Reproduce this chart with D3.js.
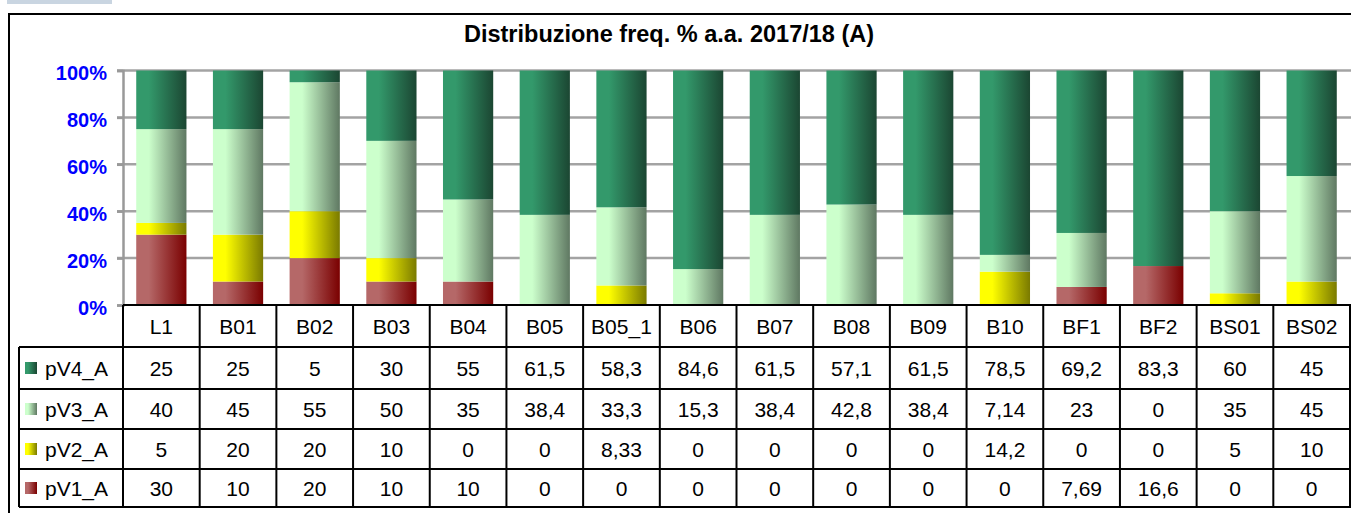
<!DOCTYPE html>
<html>
<head>
<meta charset="utf-8">
<script src="https://cdn.jsdelivr.net/npm/d3@7"></script>
<style>
  html, body { margin: 0; padding: 0; background: #fff; }
  svg { display: block; font-family: "Liberation Sans", Arial, sans-serif; }
</style>
</head>
<body>
<div id="chart"></div>
<script>
// Daten (Werte wie in der Tabelle, mit Komma)
const categories = ["L1", "B01", "B02", "B03", "B04", "B05", "B05_1", "B06", "B07", "B08", "B09", "B10", "BF1", "BF2", "BS01", "BS02"];
const pV4_A = ["25", "25", "5", "30", "55", "61,5", "58,3", "84,6", "61,5", "57,1", "61,5", "78,5", "69,2", "83,3", "60", "45"];
const pV3_A = ["40", "45", "55", "50", "35", "38,4", "33,3", "15,3", "38,4", "42,8", "38,4", "7,14", "23", "0", "35", "45"];
const pV2_A = ["5", "20", "20", "10", "0", "0", "8,33", "0", "0", "0", "0", "14,2", "0", "0", "5", "10"];
const pV1_A = ["30", "10", "20", "10", "10", "0", "0", "0", "0", "0", "0", "0", "7,69", "16,6", "0", "0"];
const seriesNames = ["pV1_A", "pV2_A", "pV3_A", "pV4_A"];
const tableOrder = ["pV4_A", "pV3_A", "pV2_A", "pV1_A"];
const yTicks = [0, 0.2, 0.4, 0.6, 0.8, 1];
const title = "Distribuzione freq. % a.a. 2017/18 (A)";

const seriesText = { pV1_A, pV2_A, pV3_A, pV4_A };
const num = s => +s.replace(",", ".");

// Farben: hell links -> dunkel rechts
const colors = {
  pV4_A: ["#33996b", "#1b4632"],
  pV3_A: ["#ccffcc", "#5f7862"],
  pV2_A: ["#ffff00", "#7a7a00"],
  pV1_A: ["#b56868", "#7a0000"]
};

const width = 1351, height = 513;
const plotLeft = 123, plotRight = 1350;
const yTop = 70.5, yBottom = 305;
const rowEdges = [347, 389, 429, 469, 507];
const legendLeft = 19;

const rows = categories.map((c, i) => {
  const r = { cat: c };
  seriesNames.forEach(s => r[s] = num(seriesText[s][i]));
  return r;
});

const svg = d3.select("#chart").append("svg")
  .attr("width", width)
  .attr("height", height);

// Gradienten
const defs = svg.append("defs");
seriesNames.forEach(s => {
  const g = defs.append("linearGradient")
    .attr("id", "grad-" + s)
    .attr("x1", 0).attr("x2", 1).attr("y1", 0).attr("y2", 0);
  g.append("stop").attr("offset", "0%").attr("stop-color", colors[s][0]);
  g.append("stop").attr("offset", "25%").attr("stop-color", colors[s][0]);
  g.append("stop").attr("offset", "100%").attr("stop-color", colors[s][1]);
});

// kleiner Balken oben links
svg.append("rect")
  .attr("x", 7).attr("y", 0).attr("width", 105).attr("height", 4)
  .attr("fill", "#c9d5e1");

// Rahmen des Diagramms
svg.append("path")
  .attr("d", `M${width + 5},14 H9 V${height + 5}`)
  .attr("fill", "none")
  .attr("stroke", "#000")
  .attr("stroke-width", 2);

// Titel
svg.append("text")
  .attr("x", 669).attr("y", 42)
  .attr("text-anchor", "middle")
  .attr("font-weight", "bold")
  .attr("font-size", 23.5)
  .text(title);

// Skalen
const x = d3.scaleBand()
  .domain(categories)
  .range([plotLeft, plotRight])
  .paddingInner(0.345)
  .paddingOuter(0.1725);

const xCol = d3.scaleBand()
  .domain(categories)
  .range([plotLeft, plotRight]);

const y = d3.scaleLinear()
  .domain([0, 1])
  .range([yBottom, yTop]);

// Gitterlinien
svg.append("g")
  .selectAll("line")
  .data(yTicks.filter(t => t > 0))
  .join("line")
  .attr("x1", 117).attr("x2", width)
  .attr("y1", d => y(d)).attr("y2", d => y(d))
  .attr("stroke", "#a3a3a3")
  .attr("stroke-width", 2.5);

// y-Achse
const yAxis = d3.axisLeft(y)
  .tickValues(yTicks)
  .tickFormat(d3.format(".0%"))
  .tickSize(6)
  .tickPadding(10);

const gy = svg.append("g")
  .attr("transform", `translate(${plotLeft},0)`)
  .call(yAxis);
gy.select(".domain").attr("stroke", "#999").attr("stroke-width", 2.5);
gy.selectAll(".tick line").attr("stroke", "#999").attr("stroke-width", 2.5);
gy.selectAll(".tick text")
  .attr("fill", "#0000ff")
  .attr("font-weight", "bold")
  .attr("font-size", 20)
  .attr("font-family", "Liberation Sans, Arial, sans-serif")
  .attr("dy", "0.45em");

// gestapelte Balken (100%)
const stack = d3.stack()
  .keys(seriesNames)
  .offset(d3.stackOffsetExpand);
const stacked = stack(rows);

svg.append("g")
  .selectAll("g")
  .data(stacked)
  .join("g")
  .attr("fill", d => `url(#grad-${d.key})`)
  .selectAll("rect")
  .data(d => d)
  .join("rect")
  .attr("x", d => x(d.data.cat))
  .attr("width", x.bandwidth())
  .attr("y", d => y(d[1]))
  .attr("height", d => Math.max(0, y(d[0]) - y(d[1])));

// Tabelle
const table = svg.append("g").attr("stroke", "#000").attr("stroke-width", 2);

// horizontale Linien
table.append("line")
  .attr("x1", plotLeft).attr("x2", width)
  .attr("y1", yBottom).attr("y2", yBottom);
rowEdges.forEach(ry => {
  table.append("line")
    .attr("x1", legendLeft).attr("x2", width)
    .attr("y1", ry).attr("y2", ry);
});

// vertikale Linien
const colEdges = categories.map(c => xCol(c)).concat([plotRight]);
colEdges.forEach(cx => {
  table.append("line")
    .attr("x1", cx).attr("x2", cx)
    .attr("y1", yBottom).attr("y2", rowEdges[rowEdges.length - 1]);
});
table.append("line")
  .attr("x1", legendLeft).attr("x2", legendLeft)
  .attr("y1", rowEdges[0]).attr("y2", rowEdges[rowEdges.length - 1]);

const fontSize = 21;

// Kopfzeile
svg.append("g")
  .selectAll("text")
  .data(categories)
  .join("text")
  .attr("x", d => xCol(d) + xCol.bandwidth() / 2)
  .attr("y", (yBottom + rowEdges[0]) / 2)
  .attr("dy", "0.36em")
  .attr("text-anchor", "middle")
  .attr("font-size", fontSize)
  .text(d => d);

// Datenzeilen
tableOrder.forEach((s, ri) => {
  const cy = (rowEdges[ri] + rowEdges[ri + 1]) / 2;
  const g = svg.append("g");
  g.append("rect")
    .attr("x", 25).attr("y", cy - 6).attr("width", 12).attr("height", 12)
    .attr("fill", `url(#grad-${s})`);
  g.append("text")
    .attr("x", 45).attr("y", cy).attr("dy", "0.36em")
    .attr("font-size", fontSize)
    .text(s);
  g.selectAll("text.val")
    .data(seriesText[s])
    .join("text")
    .attr("class", "val")
    .attr("x", (d, i) => xCol(categories[i]) + xCol.bandwidth() / 2)
    .attr("y", cy).attr("dy", "0.36em")
    .attr("text-anchor", "middle")
    .attr("font-size", fontSize)
    .text(d => d);
});
</script>
</body>
</html>
